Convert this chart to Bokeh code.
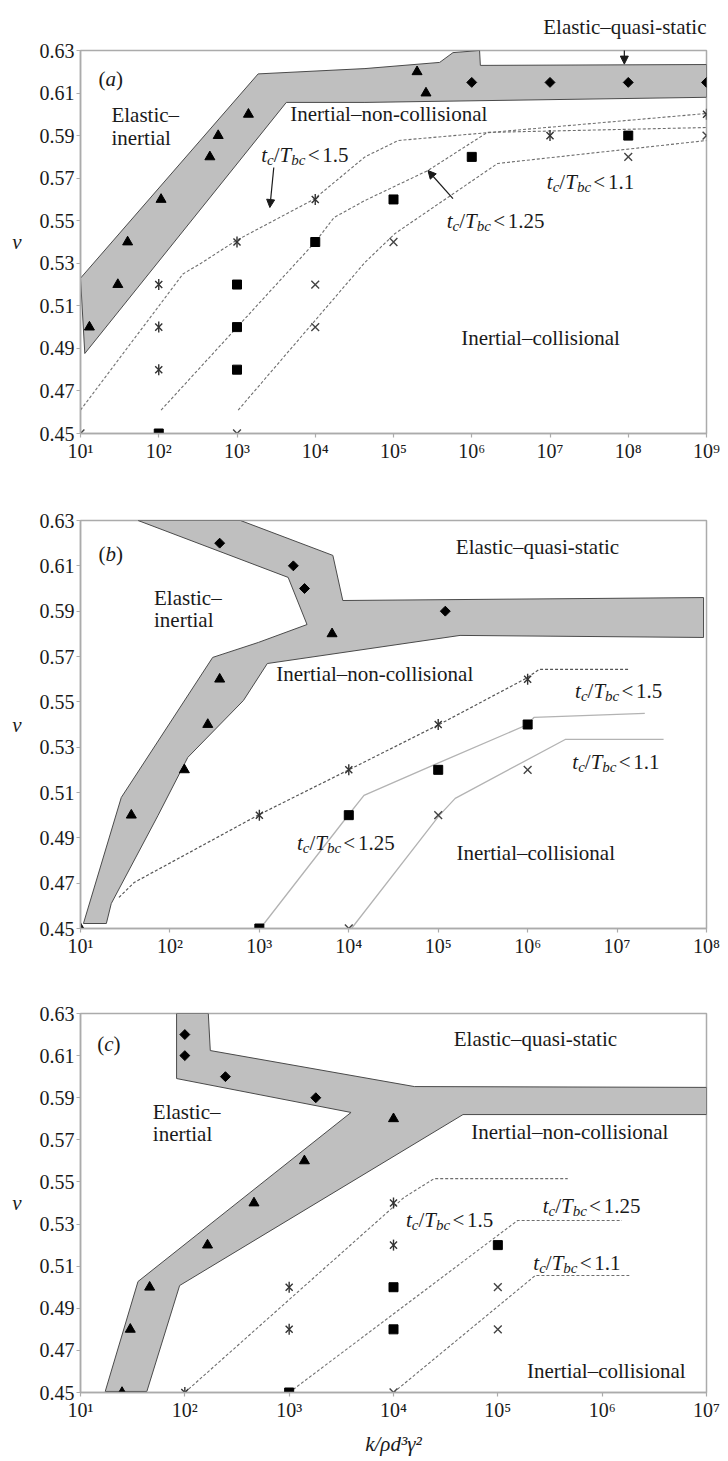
from bokeh.plotting import figure
from bokeh.layouts import column
from bokeh.models import (Range1d, FixedTicker, NumeralTickFormatter, CustomJSTickFormatter,
                          Label, Arrow, NormalHead, ColumnDataSource)
from bokeh.embed import file_html
from bokeh.resources import INLINE
from bokeh.core.properties import value, field

SERIF = "Liberation Serif"
INK = "#1a1a1a"
AXIS_GREY = "#ababab"
BAND_FILL = "#bfbfbf"
BAND_EDGE = "#4a4a4a"

V_TICKS = [0.45, 0.47, 0.49, 0.51, 0.53, 0.55, 0.57, 0.59, 0.61, 0.63]

# ---------------- panel (a) ----------------
A_BAND_LOGK = [1.0, 3.27, 4.635, 5.59, 5.76, 6.10, 6.11, 9.0, 9.0, 4.635, 3.63, 1.055]
A_BAND_V = [0.523, 0.619, 0.6215, 0.6244, 0.629, 0.63, 0.623, 0.6234, 0.608, 0.6056, 0.6056, 0.4876]
A_TRI_K = [13, 30, 40, 107, 450, 575, 1400, 2.0e5, 2.6e5]
A_TRI_V = [0.50, 0.52, 0.54, 0.56, 0.58, 0.59, 0.60, 0.62, 0.61]
A_DIA_K = [1e6, 1e7, 1e8, 1e9]
A_DIA_V = [0.615, 0.615, 0.615, 0.615]
A_AST_K = [100, 100, 100, 1e3, 1e4, 1e7, 1e9]
A_AST_V = [0.52, 0.50, 0.48, 0.54, 0.56, 0.59, 0.60]
A_SQ_K = [100, 1e3, 1e3, 1e3, 1e4, 1e5, 1e6, 1e8]
A_SQ_V = [0.45, 0.52, 0.50, 0.48, 0.54, 0.56, 0.58, 0.59]
A_X_K = [10, 1e3, 1e4, 1e4, 1e5, 1e8, 1e9]
A_X_V = [0.45, 0.45, 0.52, 0.50, 0.54, 0.58, 0.59]
A_L15_LOGK = [1.0, 2.31, 2.54, 2.99, 3.98, 4.635, 5.06, 9.0]
A_L15_V = [0.461, 0.525, 0.530, 0.5407, 0.560, 0.580, 0.5877, 0.6004]
A_L125_LOGK = [2.03, 4.0, 4.24, 4.635, 5.44, 6.2, 9.0]
A_L125_V = [0.461, 0.54, 0.5515, 0.5595, 0.5736, 0.5915, 0.5938]
A_L11_LOGK = [3.015, 4.635, 5.02, 6.33, 9.0]
A_L11_V = [0.461, 0.5304, 0.544, 0.5769, 0.5877]

# ---------------- panel (b) ----------------
B_BAND_LOGK = [1.644, 2.789, 3.822, 3.933, 7.967, 7.967, 5.244, 3.089, 2.822, 2.2, 1.867,
               1.344, 1.289, 1.033, 1.456, 2.478, 2.989, 3.533, 3.322]
B_BAND_V = [0.63, 0.63, 0.6146, 0.5947, 0.596, 0.5784, 0.5793, 0.5669, 0.5506, 0.5255, 0.4999,
            0.4610, 0.4522, 0.4522, 0.5078, 0.5696, 0.5762, 0.5841, 0.6049]
B_TRI_K = [10, 37, 145, 265, 360, 6500]
B_TRI_V = [0.45, 0.50, 0.52, 0.54, 0.56, 0.58]
B_DIA_K = [360, 2400, 3200, 1.2e5]
B_DIA_V = [0.62, 0.61, 0.60, 0.59]
B_AST_K = [1e3, 1e4, 1e5, 1e6]
B_AST_V = [0.50, 0.52, 0.54, 0.56]
B_SQ_K = [1e3, 1e4, 1e5, 1e6]
B_SQ_V = [0.45, 0.50, 0.52, 0.54]
B_X_K = [1e4, 1e5, 1e6]
B_X_V = [0.45, 0.50, 0.52]
B_L15_LOGK = [1.43, 1.6, 3.0, 4.0, 5.01, 5.98, 6.13, 7.13]
B_L15_V = [0.4637, 0.4703, 0.5003, 0.52, 0.54, 0.5603, 0.5643, 0.5643]
B_L125_LOGK = [3.01, 4.0, 4.17, 5.01, 6.0, 6.07, 7.31]
B_L125_V = [0.45, 0.5003, 0.5087, 0.5232, 0.54, 0.5431, 0.5449]
B_L11_LOGK = [4.03, 5.01, 5.19, 6.42, 7.52]
B_L11_V = [0.45, 0.4998, 0.5074, 0.5334, 0.5334]

# ---------------- panel (c) ----------------
C_BAND_LOGK = [1.921, 2.225, 2.244, 4.2, 7.0, 7.0, 4.666, 1.95, 1.636, 1.237, 1.551, 3.593, 1.921]
C_BAND_V = [0.63, 0.63, 0.6124, 0.5953, 0.5949, 0.582, 0.582, 0.5008, 0.4505, 0.4505, 0.5027, 0.583, 0.5991]
C_TRI_K = [25, 30, 46, 165, 460, 1400, 1e4]
C_TRI_V = [0.45, 0.48, 0.50, 0.52, 0.54, 0.56, 0.58]
C_DIA_K = [100, 100, 245, 1800]
C_DIA_V = [0.62, 0.61, 0.60, 0.59]
C_AST_K = [100, 1e3, 1e3, 1e4, 1e4]
C_AST_V = [0.45, 0.50, 0.48, 0.52, 0.54]
C_SQ_K = [1e3, 1e4, 1e4, 1e5]
C_SQ_V = [0.45, 0.50, 0.48, 0.52]
C_X_K = [1e4, 1e5, 1e5]
C_X_V = [0.45, 0.50, 0.48]
C_L15_LOGK = [2.0, 4.1, 4.39, 5.67]
C_L15_V = [0.45, 0.5426, 0.5516, 0.5516]
C_L125_LOGK = [3.0, 5.19, 6.19]
C_L125_V = [0.45, 0.5317, 0.5317]
C_L11_LOGK = [4.0, 5.36, 6.26]
C_L11_V = [0.45, 0.5056, 0.5056]

# Times-compatible advance widths (em) for the composed labels
W_UP = {"(": 0.333, ")": 0.333, "<": 0.564, "/": 0.278, ".": 0.25, " ": 0.25}
W_IT = {"a": 0.5, "b": 0.5, "c": 0.444, "t": 0.278, "T": 0.556}

SUPERSCRIPT_JS = """
const sup = {"0":"\u2070","1":"\u00b9","2":"\u00b2","3":"\u00b3","4":"\u2074",
             "5":"\u2075","6":"\u2076","7":"\u2077","8":"\u2078","9":"\u2079"};
const e = Math.round(Math.log10(tick));
return "10" + String(e).split("").map(c => sup[c]).join("");
"""


def exp10(logs):
    return [10 ** e for e in logs]


def panel(x_max_exp, height, left, right, top, bottom, x_label=None, title=None):
    p = figure(width=728, height=height, x_axis_type="log",
               x_range=Range1d(10, 10 ** x_max_exp), y_range=Range1d(0.45, 0.63),
               output_backend="svg", toolbar_location=None,
               min_border_left=left, min_border_right=right,
               min_border_top=top, min_border_bottom=bottom,
               background_fill_color="white", border_fill_color="white")
    p.grid.visible = False
    p.outline_line_color = AXIS_GREY
    p.outline_line_width = 1.5
    if title:
        p.title.text = title
        p.title.align = "right"
        p.title.vertical_align = "top"
        p.title.text_font = SERIF
        p.title.text_font_size = "21px"
        p.title.text_font_style = "normal"
        p.title.text_color = INK
        p.title.standoff = 20

    xa = p.xaxis[0]
    xa.ticker = FixedTicker(ticks=[10 ** n for n in range(1, x_max_exp + 1)])
    xa.formatter = CustomJSTickFormatter(code=SUPERSCRIPT_JS)
    ya = p.yaxis[0]
    ya.ticker = FixedTicker(ticks=V_TICKS)
    ya.formatter = NumeralTickFormatter(format="0.00")
    ya.axis_label = "ν"
    ya.axis_label_orientation = "horizontal"
    ya.axis_label_standoff = 15
    if x_label:
        xa.axis_label = x_label
        xa.axis_label_standoff = 8

    for ax in (xa, ya):
        ax.axis_line_color = AXIS_GREY
        ax.axis_line_width = 1.5
        ax.major_tick_line_color = AXIS_GREY
        ax.major_tick_line_width = 1.2
        ax.major_tick_in = 0
        ax.major_tick_out = 4
        ax.minor_tick_line_color = None
        ax.major_label_standoff = 2
        ax.major_label_text_font = SERIF
        ax.major_label_text_font_size = "20px"
        ax.major_label_text_color = INK
        ax.axis_label_text_font = SERIF
        ax.axis_label_text_font_size = "21px"
        ax.axis_label_text_font_style = "italic"
        ax.axis_label_text_color = INK
    return p


def draw_band(p, logk, v):
    p.patch(exp10(logk), v, fill_color=BAND_FILL, line_color=BAND_EDGE, line_width=1)


def draw_line(p, logk, v, color, dash="solid", width=1.2):
    p.line(exp10(logk), v, line_color=color, line_dash=dash, line_width=width)


def draw_points(p, tri, dia, ast, sq, cross):
    p.scatter(tri[0], tri[1], marker="triangle", size=10, fill_color="black", line_color="black")
    p.scatter(dia[0], dia[1], marker="square", size=7, angle=0.785398,
              fill_color="black", line_color="black")
    p.scatter(sq[0], sq[1], marker="square", size=9, fill_color="black", line_color="black")
    p.scatter(cross[0], cross[1], marker="x", size=11, line_color="#444444", line_width=1.4)
    # six-armed star: an x with a vertical bar through it
    p.scatter(ast[0], ast[1], marker="x", size=10, line_color="#333333", line_width=1.4)
    p.scatter(ast[0], ast[1], marker="dash", size=11, angle=1.570796,
              line_color="#333333", line_width=1.4)


def note(p, logk, v, text, align="center", baseline="middle"):
    p.add_layout(Label(x=10 ** logk, y=v, text=text, text_font=SERIF, text_font_size="21px",
                       text_align=align, text_baseline=baseline, text_color=INK))


def rich(p, logk, v, parts):
    """Left-aligned run of pieces (text, italic, size_px, drop_px) on one baseline."""
    data = dict(x=[], y=[], text=[], xo=[], yo=[], size=[], style=[])
    cursor = 0.0
    for txt, italic, size, drop in parts:
        table = W_IT if italic else W_UP
        data["x"].append(10 ** logk)
        data["y"].append(v)
        data["text"].append(txt)
        data["xo"].append(cursor)
        data["yo"].append(drop)
        data["size"].append(f"{size}px")
        data["style"].append("italic" if italic else "normal")
        cursor += sum(table.get(ch, 0.5) for ch in txt) * size
    p.text(x="x", y="y", text="text", x_offset="xo", y_offset="yo",
           text_font_size=field("size"), text_font_style=field("style"),
           text_font=value(SERIF), text_align="left", text_baseline="alphabetic",
           text_color=INK, source=ColumnDataSource(data))


def ratio(p, logk, v, bound):
    rich(p, logk, v, [("t", True, 21, 0), ("c", True, 15, 5), ("/", False, 21, 0),
                      ("T", True, 21, 0), ("bc", True, 15, 5), (" ", False, 9, 0),
                      ("<", False, 21, 0), (" ", False, 11, 0), (bound, False, 21, 0)])


def tag(p, logk, v, letter):
    rich(p, logk, v, [("(", False, 21, 0), (letter, True, 21, 0), (")", False, 21, 0)])


def arrow(p, k0, v0, k1, v1):
    p.add_layout(Arrow(end=NormalHead(size=8, fill_color=INK, line_color=INK),
                       x_start=k0, y_start=v0, x_end=k1, y_end=v1,
                       line_color=INK, line_width=1.2))


# ---------------- (a) ----------------
pa = panel(9, 470, 79, 22, 50, 37, title="Elastic–quasi-static")
draw_band(pa, A_BAND_LOGK, A_BAND_V)
for lk, vv in ((A_L15_LOGK, A_L15_V), (A_L125_LOGK, A_L125_V), (A_L11_LOGK, A_L11_V)):
    draw_line(pa, lk, vv, "#6e6e6e", dash="3 2", width=1.1)
draw_points(pa, (A_TRI_K, A_TRI_V), (A_DIA_K, A_DIA_V), (A_AST_K, A_AST_V),
            (A_SQ_K, A_SQ_V), (A_X_K, A_X_V))
tag(pa, 1.23, 0.6164, "a")
note(pa, 1.395, 0.5995, "Elastic–", align="left")
note(pa, 1.395, 0.5891, "inertial", align="left")
note(pa, 4.94, 0.600, "Inertial–non-collisional")
note(pa, 6.88, 0.4951, "Inertial–collisional")
ratio(pa, 3.31, 0.5811, "1.5")
ratio(pa, 5.68, 0.5501, "1.25")
ratio(pa, 6.96, 0.5680, "1.1")
arrow(pa, 10 ** 7.95, 0.6347, 10 ** 7.95, 0.6236)
arrow(pa, 10 ** 3.47, 0.575, 10 ** 3.42, 0.5562)
arrow(pa, 10 ** 5.76, 0.5604, 10 ** 5.44, 0.5736)

# ---------------- (b) ----------------
pb = panel(8, 490, 79, 19, 50, 32)
draw_band(pb, B_BAND_LOGK, B_BAND_V)
draw_line(pb, B_L15_LOGK, B_L15_V, "#555555", dash="3 2", width=1.2)
draw_line(pb, B_L125_LOGK, B_L125_V, "#b3b3b3", width=1.3)
draw_line(pb, B_L11_LOGK, B_L11_V, "#b3b3b3", width=1.3)
draw_points(pb, (B_TRI_K, B_TRI_V), (B_DIA_K, B_DIA_V), (B_AST_K, B_AST_V),
            (B_SQ_K, B_SQ_V), (B_X_K, B_X_V))
tag(pb, 1.2, 0.6154, "b")
note(pb, 1.822, 0.5956, "Elastic–", align="left")
note(pb, 1.822, 0.5859, "inertial", align="left")
note(pb, 4.29, 0.5625, "Inertial–non-collisional")
note(pb, 6.11, 0.6181, "Elastic–quasi-static")
note(pb, 6.09, 0.4831, "Inertial–collisional")
ratio(pb, 6.53, 0.5546, "1.5")
ratio(pb, 6.50, 0.5233, "1.1")
ratio(pb, 3.42, 0.4876, "1.25")

# ---------------- (c) ----------------
pc = panel(7, 501, 80, 16, 53, 69, x_label="k/ρd³γ²")
draw_band(pc, C_BAND_LOGK, C_BAND_V)
for lk, vv in ((C_L15_LOGK, C_L15_V), (C_L125_LOGK, C_L125_V), (C_L11_LOGK, C_L11_V)):
    draw_line(pc, lk, vv, "#6e6e6e", dash="3 2", width=1.1)
draw_points(pc, (C_TRI_K, C_TRI_V), (C_DIA_K, C_DIA_V), (C_AST_K, C_AST_V),
            (C_SQ_K, C_SQ_V), (C_X_K, C_X_V))
tag(pc, 1.16, 0.6157, "c")
note(pc, 1.693, 0.583, "Elastic–", align="left")
note(pc, 1.693, 0.573, "inertial", align="left")
note(pc, 5.36, 0.6177, "Elastic–quasi-static")
note(pc, 5.69, 0.5735, "Inertial–non-collisional")
note(pc, 6.04, 0.4604, "Inertial–collisional")
ratio(pc, 4.12, 0.5317, "1.5")
ratio(pc, 5.43, 0.5388, "1.25")
ratio(pc, 5.34, 0.5117, "1.1")

layout = column(pa, pb, pc, spacing=0)
open("out.html", "w").write(file_html(layout, INLINE, title="Flow regime maps"))
